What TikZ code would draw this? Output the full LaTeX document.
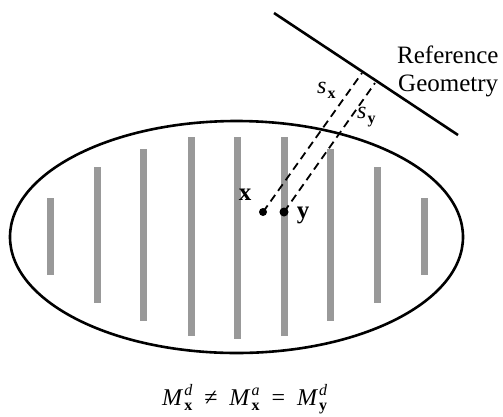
\documentclass[tikz,border=0pt]{standalone}
\usepackage{fontspec}
\setmainfont{Liberation Serif}
\usetikzlibrary{shapes.geometric}
\definecolor{bargray}{HTML}{999999}
\newcommand{\subsz}{\fontsize{16}{16}\selectfont}
\newcommand{\Msub}[2]{\textit{M}\hspace{1pt}\makebox[0pt][l]{\raisebox{0.38em}{\subsz\textit{#1}}}\raisebox{-0.22em}{\subsz\textbf{#2}}}
\newcommand{\ssub}[1]{\textit{s}\hspace{1pt}\raisebox{-0.22em}{\subsz\textbf{#1}}}
\begin{document}
\begin{tikzpicture}[x=1pt,y=-1pt,
  outline/.style={draw=black,line width=2.6pt,ellipse,inner sep=0pt,minimum width=453pt,minimum height=232pt},
  bar/.style={draw=bargray,line width=7pt},
  dot/.style={circle,fill=black,inner sep=0pt,minimum size=8pt},
  refline/.style={draw=black,line width=2.6pt},
  dline/.style={draw=black,line width=1.8pt,dash pattern=on 8pt off 5pt},
  txt/.style={inner sep=0pt,font=\fontsize{25}{28}\selectfont},
  mth/.style={inner sep=0pt,font=\fontsize{24}{26}\selectfont}]
\useasboundingbox (0,0) rectangle (503,416);
\fill[white] (0,0) rectangle (503,416);
% vertical bars
\draw[bar] (50,198) -- (50,275);
\draw[bar] (97,167) -- (97,303);
\draw[bar] (143,149) -- (143,321);
\draw[bar] (191,137) -- (191,336);
\draw[bar] (237,137) -- (237,339);
\draw[bar] (284,137) -- (284,336);
\draw[bar] (330,149) -- (330,321);
\draw[bar] (377,167) -- (377,303);
\draw[bar] (424,198) -- (424,275);
% body
\node[outline] (body) at (236.5,237) {};
% reference geometry line
\coordinate (r1) at (274,13);
\coordinate (r2) at (458,135);
\draw[refline] (r1) -- (r2);
% points
\node[dot] (px) at (263,212) {};
\node[dot,minimum size=9pt] (py) at (284,212) {};
\coordinate (ex) at (362,73);
\coordinate (ey) at (375,83);
\draw[dline] (px.center) -- (ex);
\draw[dline] (py.center) -- (ey);
% labels
\node[txt,anchor=base] (lx) at (245,200) {\bfseries x};
\node[txt,anchor=base] (ly) at (303,218) {\bfseries y};
\node[txt,anchor=base west] (ref1) at (397,63) {Reference};
\node[txt,anchor=base west] (ref2) at (398,91) {Geometry};
\node[mth,anchor=base west] (sx) at (317,93) {\ssub{x}};
\node[mth,anchor=base west] (sy) at (357,118) {\ssub{y}};
\node[mth,anchor=base west] (eq) at (162,405) {\Msub{d}{x}\hspace{12pt}≠\hspace{12pt}\Msub{a}{x}\hspace{12pt}=\hspace{12pt}\Msub{d}{y}};
\end{tikzpicture}
\end{document}
